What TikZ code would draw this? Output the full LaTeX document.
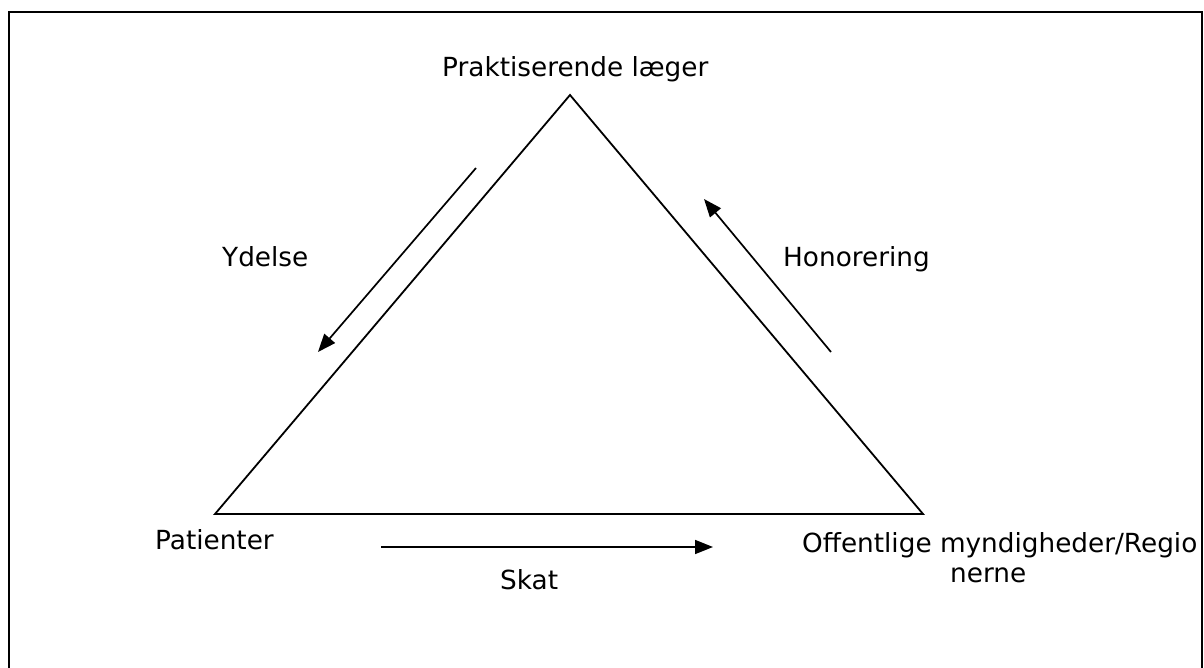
\documentclass[tikz,border=0pt]{standalone}
\usepackage{fontspec}
\setmainfont{DejaVu Sans}
\usetikzlibrary{arrows.meta}
\begin{document}
\begin{tikzpicture}[x=1pt,y=-1pt,
  lbl/.style={inner sep=0pt,anchor=base west,font=\fontsize{26.3}{31}\selectfont},
  edge/.style={line width=1.8pt,line join=miter},
  flow/.style={line width=1.7pt,-{Triangle[length=18pt,width=14pt]}},
  frame/.style={line width=2.4pt}]
\useasboundingbox (0,0) rectangle (1204,668);
\begin{scope}
\clip (0,0) rectangle (1204,668);
% frame
\draw[frame] (9,690) -- (9,12) -- (1202,12) -- (1202,690);
% triangle
\coordinate (top) at (570,95);
\coordinate (left) at (215,514);
\coordinate (right) at (923,514);
\draw[edge] (top) -- (right) -- (left) -- cycle;
% arrows
\coordinate (y1) at (476,168);
\coordinate (y2) at (318,352);
\coordinate (h1) at (831,352);
\coordinate (h2) at (704,199);
\coordinate (s1) at (381,547);
\coordinate (s2) at (713,547);
\draw[flow] (y1) -- (y2);
\draw[flow] (h1) -- (h2);
\draw[flow] (s1) -- (s2);
% labels
\node[lbl] (praks) at (442,77) {Praktiserende læger};
\node[lbl] (ydelse) at (222,266) {Ydelse};
\node[lbl] (honor) at (783,266) {Honorering};
\node[lbl] (pat) at (155,549) {Patienter};
\node[lbl] (skat) at (500,589) {Skat};
\node[lbl] (off) at (802,552) {Offentlige myndigheder/Regio};
\node[lbl] (nerne) at (950,582) {nerne};
\end{scope}
\end{tikzpicture}
\end{document}
